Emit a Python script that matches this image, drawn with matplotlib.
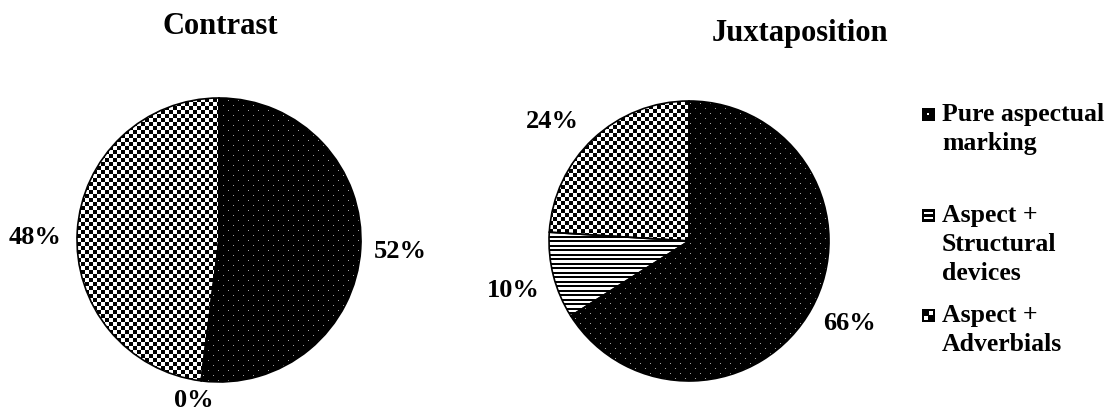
import numpy as np
import matplotlib
matplotlib.use('Agg')
import matplotlib.pyplot as plt

# ---------------- data ----------------
categories = ['Pure aspectual\nmarking', 'Aspect +\nStructural\ndevices', 'Aspect +\nAdverbials']
titles = ['Contrast', 'Juxtaposition']
contrast_values = [52, 0, 48]
juxtaposition_values = [66, 10, 24]
contrast_labels = ['52%', '0%', '48%']
juxtaposition_labels = ['66%', '10%', '24%']

plt.rcParams['font.family'] = ['Liberation Serif', 'DejaVu Serif']
plt.rcParams['font.weight'] = 'bold'

W, H = 1109, 414
fig = plt.figure(figsize=(W / 100, H / 100), dpi=100)


# ---------------- textures ----------------
def tex_dots(n):
    a = np.zeros((n, n))
    for k, r in enumerate(range(2, n, 5)):
        off = 1 if k % 2 == 0 else 6
        a[r, off::10] = 0.62
    return a


def tex_lines(n):
    rows = np.arange(n) % 9
    vals = np.where((rows < 2) | ((rows >= 4) & (rows < 6)), 0.0, 1.0)
    return np.repeat(vals[:, None], n, axis=1)


def tex_checker(n, s=4):
    yy, xx = np.mgrid[0:n, 0:n]
    return (((yy // s) + (xx // s)) % 2).astype(float)


textures = [tex_dots, tex_lines, tex_checker]


def icon(kind):
    a = np.zeros((13, 13))
    if kind == 0:
        a[5:7, 5:7] = 1
    elif kind == 1:
        a[3:5, 2:11] = 1
        a[8:10, 2:11] = 1
    else:
        a[2:6, 7:11] = 1
        a[7:11, 2:6] = 1
    return a


def draw_pie(center_px, r_px, values, labels, label_pos):
    cx, cy = center_px
    left = (cx - r_px) / W
    bottom = (H - cy - r_px) / H
    ax = fig.add_axes([left, bottom, 2 * r_px / W, 2 * r_px / H])
    wedges, _ = ax.pie(values, startangle=90, counterclock=False, radius=1.0,
                       wedgeprops=dict(facecolor='none', edgecolor='black', linewidth=1.2))
    n = int(round(2 * r_px))
    for i, w in enumerate(wedges):
        w.set_zorder(3)
        im = ax.imshow(textures[i](n), cmap='gray', vmin=0, vmax=1,
                       extent=(-1, 1, -1, 1), interpolation='nearest',
                       aspect='auto', zorder=2)
        im.set_clip_path(w)
    ax.set_xlim(-1, 1)
    ax.set_ylim(-1, 1)
    ax.set_aspect('auto')
    ax.set_axis_off()
    for lab, (x, y) in zip(labels, label_pos):
        ax.text(x, y, lab, ha='center', va='center', fontsize=19,
                fontweight='bold', color='black', clip_on=False)
    return ax


draw_pie((219, 241), 142, contrast_values, contrast_labels,
         [(1.275, -0.077), (-0.176, -1.125), (-1.296, 0.028)])
draw_pie((689, 242), 140, juxtaposition_values, juxtaposition_labels,
         [(1.15, -0.579), (-1.257, -0.343), (-0.979, 0.864)])

# overlay axes in pixel coordinates for titles and legend
ov = fig.add_axes([0, 0, 1, 1])
ov.set_xlim(0, W)
ov.set_ylim(H, 0)
ov.set_axis_off()
ov.patch.set_alpha(0)

ov.text(220, 27, titles[0], ha='center', va='center', fontsize=22, fontweight='bold')
ov.text(800, 34, titles[1], ha='center', va='center', fontsize=22, fontweight='bold')

legend_first_line = [115, 216, 316]
line_step = 29
for k, (cat, y0) in enumerate(zip(categories, legend_first_line)):
    ov.imshow(icon(k), cmap='gray', vmin=0, vmax=1, extent=(922, 935, y0 + 7, y0 - 6),
              interpolation='nearest', aspect='auto')
    for j, line in enumerate(cat.split('\n')):
        ov.text(942, y0 + j * line_step, line, ha='left', va='center',
                fontsize=18.5, fontweight='bold')
ov.set_xlim(0, W)
ov.set_ylim(H, 0)

fig.savefig('out.png', dpi=100)
